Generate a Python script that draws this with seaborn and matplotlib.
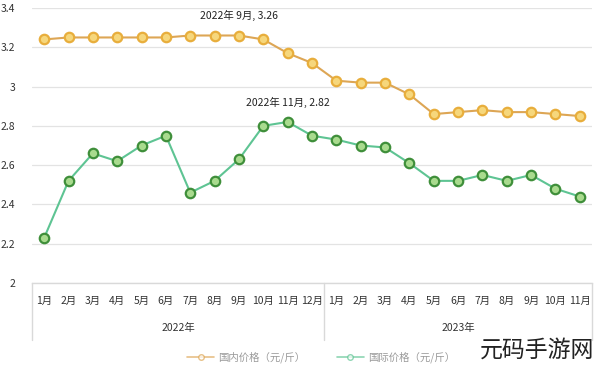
import matplotlib
matplotlib.use("Agg")
import matplotlib.pyplot as plt
import matplotlib.transforms as mtransforms
from matplotlib.lines import Line2D
import seaborn as sns
import pandas as pd

months = ["1月", "2月", "3月", "4月", "5月", "6月", "7月", "8月", "9月", "10月", "11月", "12月",
          "1月", "2月", "3月", "4月", "5月", "6月", "7月", "8月", "9月", "10月", "11月"]
years = ["2022年", "2023年"]
domestic = [3.24, 3.25, 3.25, 3.25, 3.25, 3.25, 3.26, 3.26, 3.26, 3.24, 3.17, 3.12,
            3.03, 3.02, 3.02, 2.96, 2.86, 2.87, 2.88, 2.87, 2.87, 2.86, 2.85]
international = [2.23, 2.52, 2.66, 2.62, 2.70, 2.75, 2.46, 2.52, 2.63, 2.80, 2.82, 2.75,
                 2.73, 2.70, 2.69, 2.61, 2.52, 2.52, 2.55, 2.52, 2.55, 2.48, 2.44]
series_names = ["国内价格（元/斤）", "国际价格（元/斤）"]
yticks = [2, 2.2, 2.4, 2.6, 2.8, 3, 3.2, 3.4]
ytick_labels = ["2", "2.2", "2.4", "2.6", "2.8", "3", "3.2", "3.4"]
annotations = [(8, 3.26, "2022年 9月, 3.26"), (10, 2.82, "2022年 11月, 2.82")]

sns.set_theme(style="white")
plt.rcParams['font.family'] = ['Noto Sans CJK SC', 'DejaVu Sans']

df = pd.DataFrame({
    "idx": list(range(len(months))) * 2,
    "value": domestic + international,
    "series": [series_names[0]] * len(months) + [series_names[1]] * len(months),
})

fig = plt.figure(figsize=(6.0, 3.69), dpi=100)
ax = fig.add_axes([32 / 600, 1 - 283 / 369, 560 / 600, 275 / 369])

line_colors = {series_names[0]: "#DDA655", series_names[1]: "#5EC493"}
face_colors = {series_names[0]: "#F6D77C", series_names[1]: "#A9DB8E"}
edge_colors = {series_names[0]: "#E8AE3C", series_names[1]: "#3F8F3A"}

for name in series_names:
    sub = df[df["series"] == name]
    sns.lineplot(data=sub, x="idx", y="value", ax=ax, color=line_colors[name],
                 linewidth=1.5, marker="o", markersize=6.8,
                 markerfacecolor=face_colors[name], markeredgecolor=edge_colors[name],
                 markeredgewidth=1.6, legend=False, zorder=3)

ax.set_xlim(-0.5, len(months) - 0.5)
ax.set_ylim(2, 3.4)
ax.set_yticks(yticks)
ax.set_yticklabels(ytick_labels, fontsize=7.5, color="#333333")
ax.tick_params(axis="y", length=0, pad=12)
ax.set_xticks(range(len(months)))
ax.set_xticklabels(months, fontsize=7.5, color="#333333", fontweight="medium")
ax.tick_params(axis="x", length=0, pad=9)
ax.set_xlabel("")
ax.set_ylabel("")
ax.grid(axis="y", color="#E3E3E3", linewidth=0.9)
for s in ["top", "right", "left"]:
    ax.spines[s].set_visible(False)
ax.spines["bottom"].set_color("#D9D9D9")
ax.spines["bottom"].set_linewidth(1.0)

# category group separators
trans = mtransforms.blended_transform_factory(ax.transData, ax.transAxes)
for xs in [-0.5, 11.5, len(months) - 0.5]:
    ax.plot([xs, xs], [0, -57 / 275], transform=trans, color="#D9D9D9",
            linewidth=1.0, clip_on=False)
ax.text(5.5, -45 / 275, years[0], transform=trans, ha="center", va="center",
        fontsize=7.5, color="#333333")
ax.text(17, -45 / 275, years[1], transform=trans, ha="center", va="center",
        fontsize=7.5, color="#333333")

for xi, yi, label in annotations:
    ax.annotate(label, (xi, yi), xytext=(xi, yi + 0.1), ha="center", va="center",
                fontsize=7.5, color="#222222")

# legend
handles = [Line2D([0], [0], color=line_colors[n], linewidth=1.2, marker="o", markersize=4,
                  markerfacecolor="white", markeredgecolor=line_colors[n], alpha=0.7)
           for n in series_names]
leg = fig.legend(handles, series_names, loc="center", bbox_to_anchor=(0.535, 1 - 357 / 369),
                 ncol=2, frameon=False, fontsize=7.5, handlelength=2.6, columnspacing=3.0,
                 handletextpad=0.4)
for t in leg.get_texts():
    t.set_color("#9A9A9A")

fig.text(480 / 600, 1 - 350 / 369, "元码手游网", ha="left", va="center", fontsize=16.5,
         color="#222222", fontweight="light")

fig.savefig("out.png", dpi=100, facecolor="white")
